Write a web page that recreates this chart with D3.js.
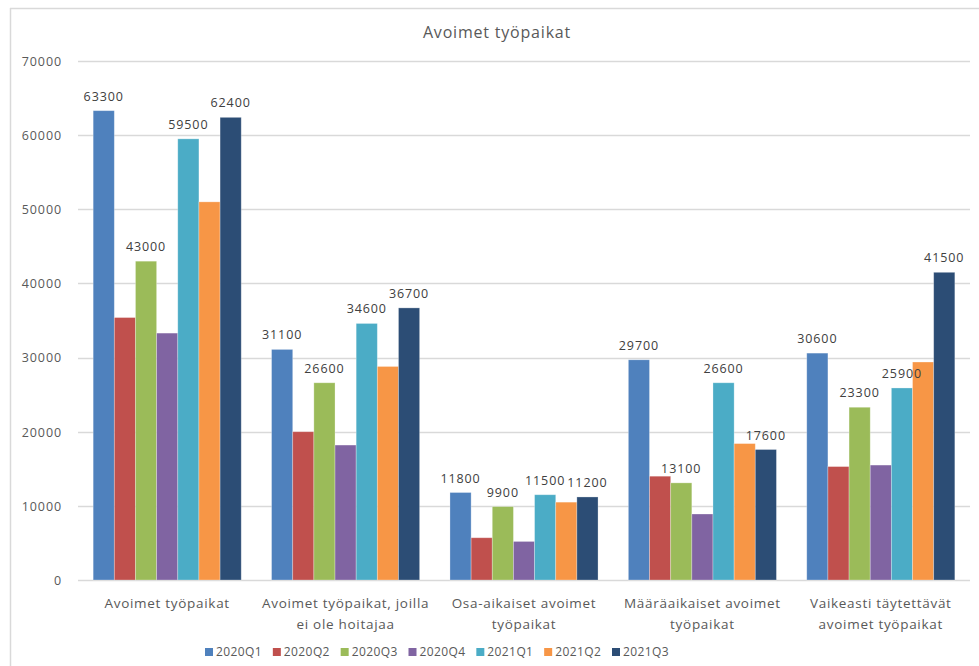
<!DOCTYPE html>
<html>
<head>
<meta charset="utf-8">
<script src="https://cdn.jsdelivr.net/npm/d3@7/dist/d3.min.js"></script>
<style>
  html, body { margin: 0; padding: 0; background: #fff; }
  svg { display: block; }
  text { font-family: "Open Sans", "DejaVu Sans", sans-serif; }
</style>
</head>
<body>
<svg id="chart" width="979" height="666"></svg>
<script>
// ---- data ----
const title = "Avoimet työpaikat";
const categories = [
  ["Avoimet työpaikat"],
  ["Avoimet työpaikat, joilla", "ei ole hoitajaa"],
  ["Osa-aikaiset avoimet", "työpaikat"],
  ["Määräaikaiset avoimet", "työpaikat"],
  ["Vaikeasti täytettävät", "avoimet työpaikat"]
];
const seriesNames = ["2020Q1", "2020Q2", "2020Q3", "2020Q4", "2021Q1", "2021Q2", "2021Q3"];
const s2020Q1 = [63300, 31100, 11800, 29700, 30600];
const s2020Q2 = [35400, 20000, 5700, 14000, 15300];
const s2020Q3 = [43000, 26600, 9900, 13100, 23300];
const s2020Q4 = [33300, 18200, 5200, 8900, 15500];
const s2021Q1 = [59500, 34600, 11500, 26600, 25900];
const s2021Q2 = [51000, 28800, 10500, 18400, 29400];
const s2021Q3 = [62400, 36700, 11200, 17600, 41500];
const labelledSeries = ["2020Q1", "2020Q3", "2021Q1", "2021Q3"];
const yTicks = [0, 10000, 20000, 30000, 40000, 50000, 60000, 70000];
const colors = ["#4F81BD", "#C0504D", "#9BBB59", "#8064A2", "#4BACC6", "#F79646", "#2C4D75"];

const seriesValues = [s2020Q1, s2020Q2, s2020Q3, s2020Q4, s2021Q1, s2021Q2, s2021Q3];

// ---- layout ----
const svg = d3.select("#chart");
const plot = { left: 78, right: 970, top: 61, bottom: 580 };
const textColor = "#595959";

// frame
svg.append("line").attr("x1", 10).attr("x2", 979).attr("y1", 8.5).attr("y2", 8.5)
  .attr("stroke", "#d9d9d9").attr("stroke-width", 1.5);
svg.append("line").attr("x1", 10.5).attr("x2", 10.5).attr("y1", 8).attr("y2", 666)
  .attr("stroke", "#d9d9d9").attr("stroke-width", 1.5);

const x0 = d3.scaleBand().domain(d3.range(categories.length))
  .range([plot.left, plot.right]).paddingInner(0.17).paddingOuter(0.085);
const x1 = d3.scaleBand().domain(seriesNames).range([0, x0.bandwidth()]);
const y = d3.scaleLinear().domain([0, 70000]).range([plot.bottom, plot.top]);

// gridlines
svg.append("g").selectAll("line").data(yTicks).join("line")
  .attr("x1", plot.left).attr("x2", plot.right)
  .attr("y1", d => Math.round(y(d)) + 0.5).attr("y2", d => Math.round(y(d)) + 0.5)
  .attr("stroke", "#d9d9d9").attr("stroke-width", 1.3);

// y axis labels
const yAxis = d3.axisLeft(y).tickValues(yTicks).tickSize(0).tickPadding(0).tickFormat(d3.format("d"));
const yg = svg.append("g").attr("transform", `translate(62,0)`).call(yAxis);
yg.select(".domain").remove();
yg.selectAll("text").attr("fill", textColor).style("font-size", "12.5px")
  .style("letter-spacing", "0.9px").attr("dy", "0.35em");

// bars
const groups = svg.append("g").selectAll("g").data(categories).join("g")
  .attr("transform", (d, i) => `translate(${x0(i)},0)`);
groups.each(function(cat, ci) {
  const g = d3.select(this);
  seriesNames.forEach((name, si) => {
    const v = seriesValues[si][ci];
    g.append("rect")
      .attr("x", x1(name))
      .attr("width", x1.bandwidth())
      .attr("y", y(v))
      .attr("height", y(0) - y(v))
      .attr("fill", colors[si])
      .attr("stroke", "rgba(255,255,255,0.35)")
      .attr("stroke-width", 0.8);
  });
});

// data labels
groups.each(function(cat, ci) {
  const g = d3.select(this);
  seriesNames.forEach((name, si) => {
    if (!labelledSeries.includes(name)) return;
    const v = seriesValues[si][ci];
    g.append("text")
      .attr("x", x1(name) + x1.bandwidth() / 2)
      .attr("y", y(v) - 10)
      .attr("text-anchor", "middle")
      .attr("fill", "#404040")
      .style("font-size", "12.5px")
      .style("letter-spacing", "0.9px")
      .text(v);
  });
});

// category labels
groups.each(function(cat, ci) {
  const g = d3.select(this);
  const t = g.append("text")
    .attr("x", x0.bandwidth() / 2)
    .attr("y", 608)
    .attr("text-anchor", "middle")
    .attr("fill", textColor)
    .style("font-size", "13.5px")
    .style("letter-spacing", "0.7px");
  cat.forEach((line, li) => {
    t.append("tspan").attr("x", x0.bandwidth() / 2).attr("dy", li === 0 ? 0 : 21).text(line);
  });
});

// title
svg.append("text").attr("x", 497).attr("y", 38).attr("text-anchor", "middle")
  .attr("fill", textColor).style("font-size", "16px").style("letter-spacing", "0.8px")
  .text(title);

// legend
const legendX = d3.scalePoint().domain(seriesNames).range([205, 612]);
const lg = svg.append("g").selectAll("g").data(seriesNames).join("g")
  .attr("transform", d => `translate(${legendX(d)},652)`);
lg.append("rect").attr("x", 0).attr("y", -4).attr("width", 8).attr("height", 8)
  .attr("fill", (d, i) => colors[i]);
lg.append("text").attr("x", 11).attr("y", 0).attr("dy", "0.35em")
  .attr("fill", textColor).style("font-size", "12px").style("letter-spacing", "0.4px")
  .text(d => d);
</script>
</body>
</html>
